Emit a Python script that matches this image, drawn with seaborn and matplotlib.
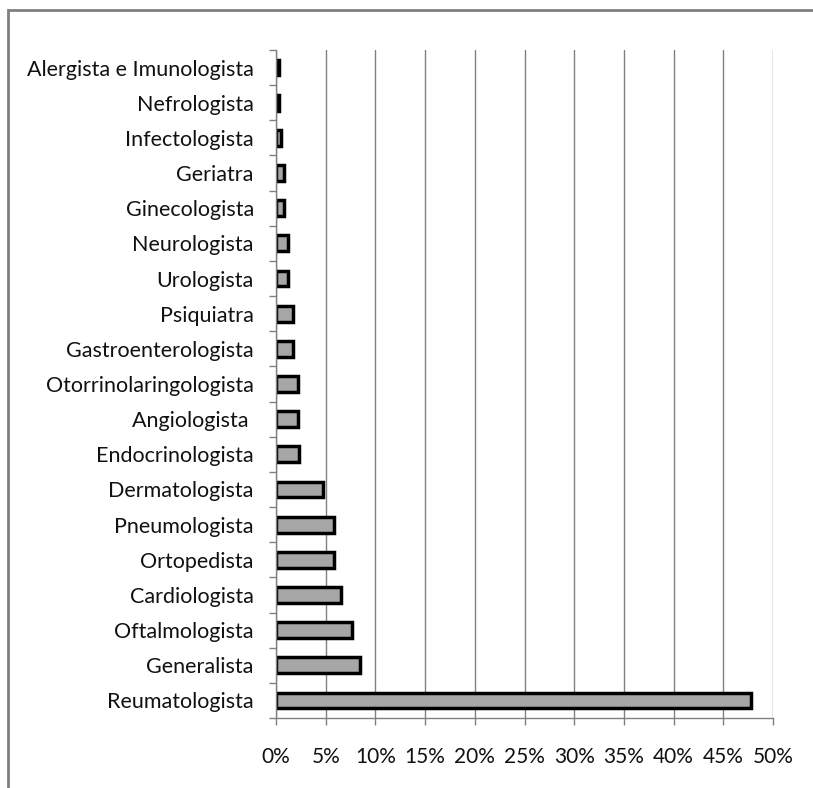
import numpy as np
import pandas as pd
import seaborn as sns
import matplotlib.pyplot as plt
from matplotlib.patches import Rectangle
from matplotlib.ticker import FixedLocator, PercentFormatter

especialidades = ['Alergista e Imunologista', 'Nefrologista', 'Infectologista', 'Geriatra',
                  'Ginecologista', 'Neurologista', 'Urologista', 'Psiquiatra',
                  'Gastroenterologista', 'Otorrinolaringologista', 'Angiologista ',
                  'Endocrinologista', 'Dermatologista', 'Pneumologista', 'Ortopedista',
                  'Cardiologista', 'Oftalmologista', 'Generalista', 'Reumatologista']
percentuais = [0.3, 0.3, 0.5, 0.8, 0.8, 1.2, 1.2, 1.7, 1.7, 2.2, 2.2, 2.3,
               4.7, 5.8, 5.8, 6.5, 7.6, 8.5, 47.8]
xticks = [0, 5, 10, 15, 20, 25, 30, 35, 40, 45, 50]

df = pd.DataFrame({'esp': especialidades, 'pct': percentuais})

sns.set_theme(style="white")
plt.rcParams['font.family'] = ['Lato', 'DejaVu Sans']

fig = plt.figure(figsize=(8.13, 7.88), dpi=100)
ax = fig.add_axes([276 / 813, 1 - 718 / 788, (773 - 276) / 813, (718 - 50) / 788])

sns.barplot(data=df, x='pct', y='esp', orient='h', color='#a6a6a6',
            edgecolor='black', linewidth=2.5, width=0.45, saturation=1, ax=ax)

ax.set_xlim(0, 50)
ax.set_ylim(len(especialidades) - 0.5, -0.5)
ax.set_xticks(xticks)
ax.xaxis.set_major_formatter(PercentFormatter(decimals=0))
ax.set_xlabel('')
ax.set_ylabel('')
ax.xaxis.grid(True, color='#808080', linewidth=1)
ax.set_axisbelow(True)

for s in ['top', 'right']:
    ax.spines[s].set_visible(False)
for s in ['left', 'bottom']:
    ax.spines[s].set_color('#808080')
    ax.spines[s].set_linewidth(1)

ax.tick_params(axis='x', direction='out', length=5, color='#808080', width=1,
               pad=16, labelsize=15, labelcolor='#111111', bottom=True)
ax.tick_params(axis='y', which='major', length=0, pad=16, labelsize=15.5,
               labelcolor='#111111')
ax.yaxis.set_minor_locator(FixedLocator(np.arange(-0.5, len(especialidades), 1)))
ax.tick_params(axis='y', which='minor', direction='out', length=5, color='#808080',
               width=1, left=True)

# moldura do gráfico
fig.patches.append(Rectangle((8 / 813, -0.1), 1.2, 1 - 10 / 788 + 0.1,
                             transform=fig.transFigure, fill=False,
                             edgecolor='#808080', linewidth=2))

fig.savefig('out.png', dpi=100)
